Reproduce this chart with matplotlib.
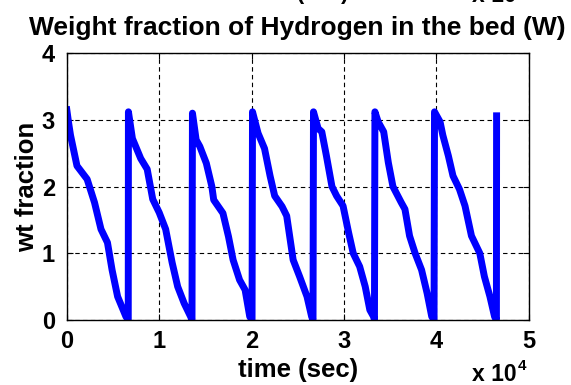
import matplotlib
matplotlib.use("Agg")
import matplotlib.pyplot as plt
import numpy as np

plt.rcParams['font.family'] = ['Liberation Sans', 'DejaVu Sans']
plt.rcParams['font.weight'] = 'bold'

# time in units of 1e4 s, weight fraction values
t = [0.00, 0.02, 0.04, 0.11, 0.22, 0.30, 0.37, 0.44, 0.49, 0.55, 0.64, 0.665,
     0.667, 0.71, 0.80, 0.87, 0.93, 1.00, 1.07, 1.14, 1.20, 1.27, 1.34, 1.355,
     1.36, 1.40, 1.44, 1.51, 1.57, 1.59, 1.64, 1.69, 1.75, 1.80, 1.87, 1.93, 1.98, 2.005,
     2.01, 2.07, 2.14, 2.20, 2.25, 2.33, 2.38, 2.45, 2.52, 2.60, 2.65, 2.665,
     2.67, 2.72, 2.76, 2.81, 2.87, 2.92, 2.99, 3.05, 3.10, 3.17, 3.23, 3.28, 3.32, 3.33,
     3.335, 3.37, 3.43, 3.48, 3.53, 3.62, 3.66, 3.71, 3.77, 3.84, 3.90, 3.95, 3.975,
     3.98, 4.04, 4.07, 4.13, 4.18, 4.25, 4.31, 4.38, 4.47, 4.52, 4.58, 4.63, 4.65,
     4.652]
w = [3.15, 2.95, 2.77, 2.31, 2.11, 1.76, 1.36, 1.16, 0.75, 0.35, 0.05, 0.0,
     3.12, 2.72, 2.42, 2.26, 1.81, 1.61, 1.36, 0.86, 0.50, 0.25, 0.05, 0.0,
     3.10, 2.70, 2.60, 2.35, 2.00, 1.80, 1.70, 1.60, 1.25, 0.90, 0.60, 0.45, 0.05, 0.0,
     3.12, 2.80, 2.57, 2.16, 1.86, 1.70, 1.56, 0.90, 0.65, 0.35, 0.05, 0.0,
     3.12, 2.87, 2.82, 2.46, 2.00, 1.86, 1.71, 1.31, 1.00, 0.80, 0.50, 0.15, 0.05, 0.0,
     3.12, 2.97, 2.82, 2.36, 2.00, 1.76, 1.66, 1.26, 1.00, 0.75, 0.40, 0.05, 0.0,
     3.12, 2.97, 2.77, 2.46, 2.16, 1.96, 1.71, 1.26, 1.00, 0.65, 0.35, 0.05, 0.0,
     3.06]

xticks = [0, 1, 2, 3, 4, 5]
yticks = [0, 1, 2, 3, 4]

fig = plt.figure(figsize=(5.71, 3.85), dpi=100)
ax = fig.add_axes([0.117, 0.169, 0.809, 0.693])

ax.plot(t, w, color='#0000ff', linewidth=5, solid_joinstyle='round')

ax.set_xlim(0, 5)
ax.set_ylim(0, 4)
ax.set_xticks(xticks)
ax.set_yticks(yticks)
ax.grid(True, color='black', linestyle=(0, (4, 3)), linewidth=0.8)
ax.tick_params(direction='in', length=4, top=True, right=True,
               labelsize=17, width=0.8)
ax.tick_params(axis='x', pad=7)
ax.tick_params(axis='y', pad=8.5)
for lbl in ax.get_xticklabels() + ax.get_yticklabels():
    lbl.set_fontweight('bold')
for s in ax.spines.values():
    s.set_linewidth(1.0)

ax.set_title('Weight fraction of Hydrogen in the bed (W)', fontsize=19,
             fontweight='bold', pad=13)
ax.set_ylabel('wt fraction', fontsize=18.5, fontweight='bold', labelpad=2)
ax.set_xlabel('time (sec)', fontsize=18.5, fontweight='bold', labelpad=4)

# offset label, MATLAB style
fig.text(0.827, 0.01, 'x 10', fontsize=16.5, fontweight='bold', ha='left', va='baseline')
fig.text(0.907, 0.038, '4', fontsize=11, fontweight='bold', ha='left', va='baseline')

# bits of the upper subplot's labels, cut off at the top edge
fig.text(0.52, 0.99, 'time (sec)', fontsize=16, fontweight='bold', ha='center', va='bottom')
fig.text(0.827, 0.982, 'x 10', fontsize=16.5, fontweight='bold', ha='left', va='bottom')

fig.savefig('out.png', dpi=100)
